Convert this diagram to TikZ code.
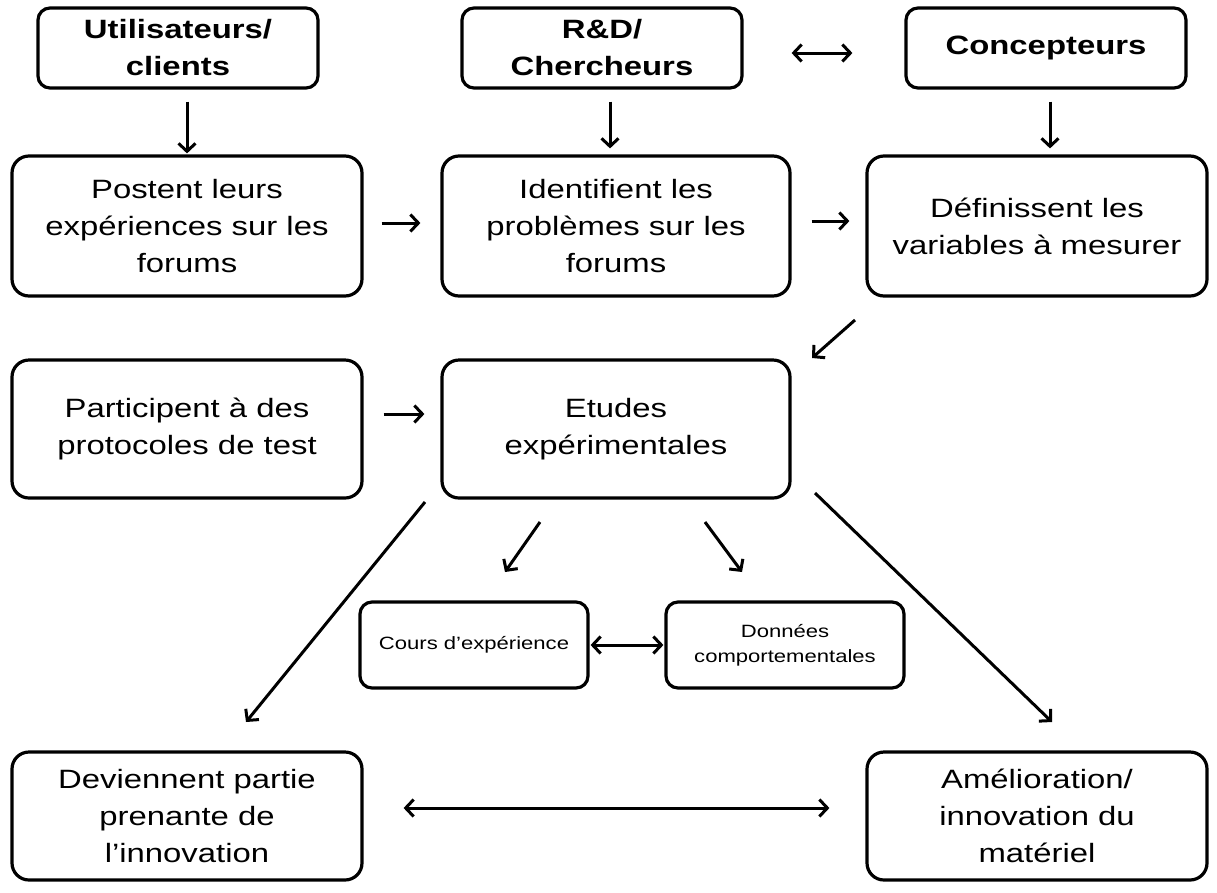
\documentclass[tikz,border=0pt]{standalone}
\usepackage{fontspec}
\setmainfont{Liberation Sans}[FakeStretch=1.24]
\usetikzlibrary{arrows.meta}
\begin{document}
\begin{tikzpicture}[x=1pt,y=-1pt,
  box/.style={draw,line width=3.2pt,rounded corners=17pt,align=center,inner sep=0pt,
    font=\fontsize{26.5}{37}\selectfont},
  hbox/.style={draw,line width=3.2pt,rounded corners=12pt,align=center,inner sep=0pt,
    font=\fontsize{26.5}{37}\selectfont\bfseries},
  sbox/.style={draw,line width=3.2pt,rounded corners=12pt,align=center,inner sep=0pt,
    font=\fontsize{17.8}{25}\selectfont},
  arr/.style={line width=3pt,-{Straight Barb[length=8pt,width=17pt,line width=3pt]}},
  darr/.style={line width=3pt,{Straight Barb[length=8pt,width=17pt,line width=3pt]}-{Straight Barb[length=8pt,width=17pt,line width=3pt]}}]
\useasboundingbox (0,0) rectangle (1217,892);
% header boxes
\node[hbox,minimum width=280,minimum height=80] (u) at (178,48) {Utilisateurs/\\clients};
\node[hbox,minimum width=280,minimum height=80] (r) at (602,48) {R\&D/\\Chercheurs};
\node[hbox,minimum width=280,minimum height=80] (c) at (1046,48) {Concepteurs};
% row 2
\node[box,minimum width=350,minimum height=140] (p) at (187,226) {Postent leurs\\expériences sur les\\forums};
\node[box,minimum width=348,minimum height=140] (i) at (616,226) {Identifient les\\problèmes sur les\\forums};
\node[box,minimum width=340,minimum height=140] (d) at (1037,226) {Définissent les\\variables à mesurer};
% row 3
\node[box,minimum width=350,minimum height=138] (pa) at (187,429) {Participent à des\\protocoles de test};
\node[box,minimum width=348,minimum height=138] (e) at (616,429) {Etudes\\expérimentales};
% small
\node[sbox,minimum width=228,minimum height=86] (co) at (474,645) {Cours d’expérience};
\node[sbox,minimum width=238,minimum height=86] (do) at (785,645) {Données\\comportementales};
% bottom
\node[box,minimum width=350,minimum height=128] (dv) at (187,816) {Deviennent partie\\prenante de\\l’innovation};
\node[box,minimum width=340,minimum height=128] (am) at (1037,816) {Amélioration/\\innovation du\\matériel};
% coordinates for diagonal arrows
\coordinate (d1) at (855,320); \coordinate (d2) at (812,358);
\coordinate (e1) at (540,522); \coordinate (e2) at (505,572);
\coordinate (e3) at (705,522); \coordinate (e4) at (742,572);
\coordinate (e5) at (425,502); \coordinate (e6) at (246,722);
\coordinate (e7) at (815,493); \coordinate (e8) at (1052,722);
% arrows
\draw[arr,shorten <=12pt,shorten >=1pt] (u.south -| p.north) -- (p.north);
\draw[arr,shorten <=12pt,shorten >=6pt] ([xshift=8pt]r.south) -- ([xshift=8pt]r.south |- i.north);
\draw[arr,shorten <=12pt,shorten >=6pt] ([xshift=4pt]c.south) -- ([xshift=4pt]c.south |- d.north);
\draw[darr,shorten <=48pt,shorten >=52pt] ([yshift=-5pt]r.east) -- ([yshift=-5pt]c.west);
\draw[arr,shorten <=18pt,shorten >=20pt] ([yshift=3pt]p.east) -- ([yshift=3pt]i.west);
\draw[arr,shorten <=20pt,shorten >=16pt] ([yshift=5pt]i.east) -- ([yshift=5pt]d.west);
\draw[arr,shorten <=20pt,shorten >=16pt] ([yshift=15pt]pa.east) -- ([yshift=15pt]e.west);
\draw[arr] (d1) -- (d2);
\draw[arr] (e1) -- (e2);
\draw[arr] (e3) -- (e4);
\draw[darr,shorten <=1pt,shorten >=1pt] (co.east) -- (do.west);
\draw[arr] (e5) -- (e6);
\draw[arr] (e7) -- (e8);
\draw[darr,shorten <=40pt,shorten >=36pt] ([yshift=8pt]dv.east) -- ([yshift=8pt]am.west);
\end{tikzpicture}
\end{document}
